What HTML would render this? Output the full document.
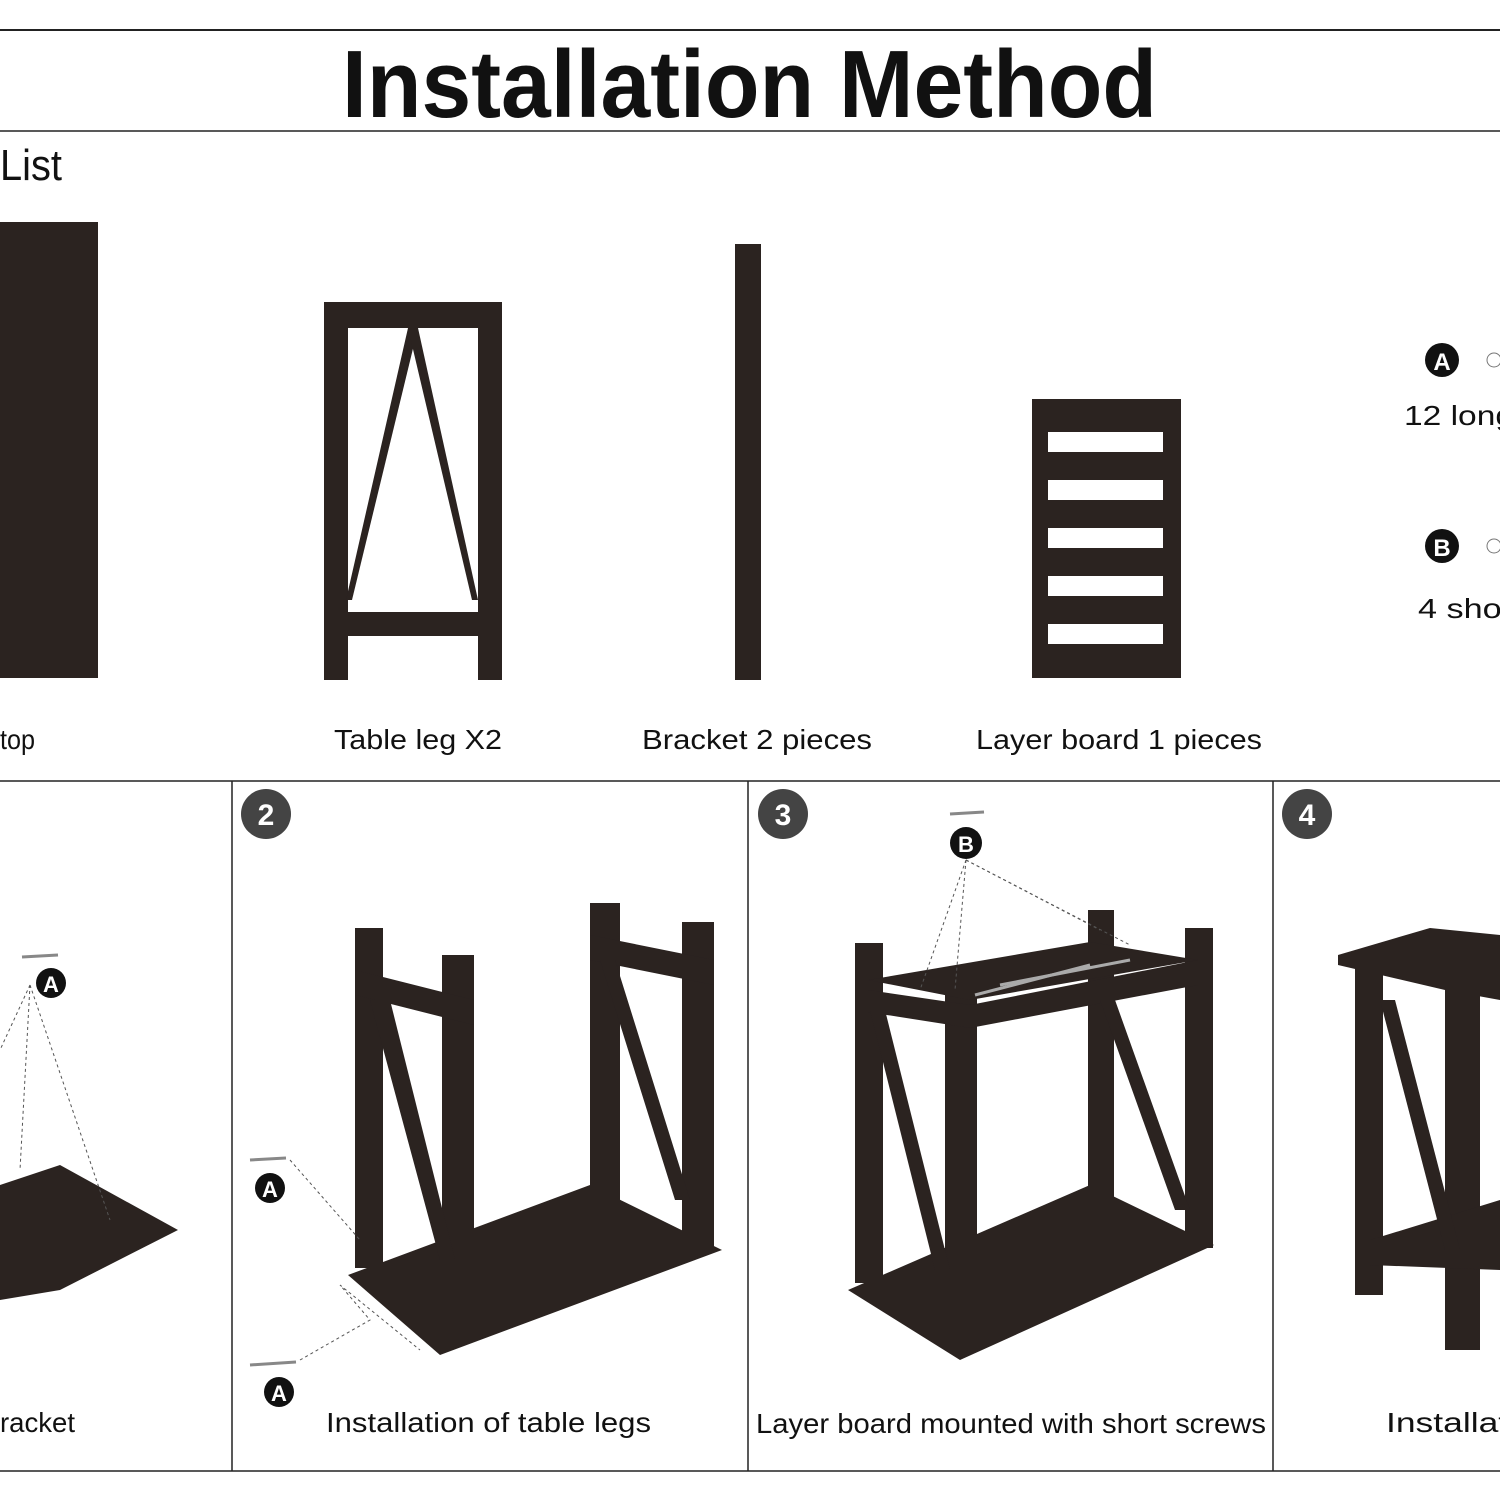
<!DOCTYPE html>
<html><head><meta charset="utf-8"><style>
html,body{margin:0;padding:0;background:#fff;}
svg{display:block;}
text{font-family:"Liberation Sans",sans-serif;fill:#111;}
</style></head><body>
<svg width="1500" height="1500" viewBox="0 0 1500 1500" xmlns="http://www.w3.org/2000/svg">
<rect width="1500" height="1500" fill="#fff"/>
<line x1="0" y1="30" x2="1500" y2="30" stroke="#222" stroke-width="2"/>
<text x="342" y="117" font-size="96" font-weight="bold" textLength="815" lengthAdjust="spacingAndGlyphs">Installation Method</text>
<line x1="0" y1="131" x2="1500" y2="131" stroke="#222" stroke-width="1.5"/>
<text x="0" y="180" font-size="44" textLength="62" lengthAdjust="spacingAndGlyphs">List</text>

<!-- tabletop -->
<rect x="0" y="222" width="98" height="456" fill="#2b2320"/>
<!-- table leg -->
<g fill="#2b2320">
<rect x="324" y="302" width="24" height="378"/>
<rect x="478" y="302" width="24" height="378"/>
<rect x="324" y="302" width="178" height="26"/>
<rect x="324" y="612" width="178" height="24"/>
<polygon points="408,328 418,328 352,600 346,600"/>
<polygon points="408,328 418,328 478,600 472,600"/>
</g>
<!-- bracket -->
<rect x="735" y="244" width="26" height="436" fill="#2b2320"/>
<!-- layer board -->
<rect x="1032" y="399" width="149" height="279" fill="#2b2320"/>
<g fill="#fff">
<rect x="1048" y="432" width="115" height="20"/>
<rect x="1048" y="480" width="115" height="20"/>
<rect x="1048" y="528" width="115" height="20"/>
<rect x="1048" y="576" width="115" height="20"/>
<rect x="1048" y="624" width="115" height="20"/>
</g>
<g font-size="28">
<text x="0" y="749" textLength="35" lengthAdjust="spacingAndGlyphs">top</text>
<text x="334" y="749" textLength="168" lengthAdjust="spacingAndGlyphs">Table leg X2</text>
<text x="642" y="749" textLength="230" lengthAdjust="spacingAndGlyphs">Bracket 2 pieces</text>
<text x="976" y="749" textLength="286" lengthAdjust="spacingAndGlyphs">Layer board 1 pieces</text>
<text x="1404" y="425" textLength="110" lengthAdjust="spacingAndGlyphs">12 long</text>
<text x="1418" y="618" textLength="95" lengthAdjust="spacingAndGlyphs">4 shor</text>
</g>
<circle cx="1442" cy="360" r="17" fill="#111"/><text x="1442" y="370" font-size="24" text-anchor="middle" style="fill:#fff" font-weight="bold">A</text>
<circle cx="1442" cy="546" r="17" fill="#111"/><text x="1442" y="556" font-size="24" text-anchor="middle" style="fill:#fff" font-weight="bold">B</text>
<circle cx="1494" cy="360" r="7" fill="none" stroke="#777"/>
<circle cx="1494" cy="546" r="7" fill="none" stroke="#777"/>

<!-- bottom frames -->
<line x1="0" y1="781" x2="1500" y2="781" stroke="#222" stroke-width="1.5"/>
<line x1="0" y1="1471" x2="1500" y2="1471" stroke="#222" stroke-width="1.5"/>
<line x1="232" y1="781" x2="232" y2="1471" stroke="#222" stroke-width="1.5"/>
<line x1="748" y1="781" x2="748" y2="1471" stroke="#222" stroke-width="1.5"/>
<line x1="1273" y1="781" x2="1273" y2="1471" stroke="#222" stroke-width="1.5"/>
<g font-size="30" font-weight="bold">
<circle cx="266" cy="814" r="25" fill="#444"/><text x="266" y="825" text-anchor="middle" style="fill:#fff">2</text>
<circle cx="783" cy="814" r="25" fill="#444"/><text x="783" y="825" text-anchor="middle" style="fill:#fff">3</text>
<circle cx="1307" cy="814" r="25" fill="#444"/><text x="1307" y="825" text-anchor="middle" style="fill:#fff">4</text>
</g>
<g font-size="28">
<text x="0" y="1432" textLength="75" lengthAdjust="spacingAndGlyphs">racket</text>
<text x="326" y="1432" textLength="325" lengthAdjust="spacingAndGlyphs">Installation of table legs</text>
<text x="756" y="1433" textLength="510" lengthAdjust="spacingAndGlyphs">Layer board  mounted with short screws</text>
<text x="1386" y="1432" textLength="130" lengthAdjust="spacingAndGlyphs">Installati</text>
</g>

<!-- panel 1 -->
<polygon points="0,1185 60,1165 178,1230 60,1290 0,1300" fill="#2b2320"/>
<g stroke="#555" stroke-dasharray="3,3" fill="none">
<line x1="30" y1="985" x2="0" y2="1050"/><line x1="30" y1="985" x2="20" y2="1170"/><line x1="30" y1="985" x2="110" y2="1220"/>
</g>
<circle cx="51" cy="983" r="15" fill="#111"/><text x="51" y="992" font-size="22" text-anchor="middle" style="fill:#fff" font-weight="bold">A</text>
<line x1="22" y1="957" x2="58" y2="955" stroke="#888" stroke-width="3"/>

<!-- panel 2 -->
<g fill="#2b2320">
<polygon points="348,1275 590,1185 722,1250 440,1355"/>
<rect x="355" y="928" width="28" height="340"/>
<rect x="442" y="955" width="32" height="380"/>
<rect x="590" y="903" width="30" height="300"/>
<rect x="682" y="922" width="32" height="330"/>
<polygon points="355,970 474,1000 474,1025 355,995"/>
<polygon points="590,935 714,960 714,985 590,960"/>
<polygon points="370,1000 390,1000 455,1260 440,1260"/>
<polygon points="600,960 615,960 690,1200 675,1200"/>
</g>
<g stroke="#555" stroke-dasharray="3,3" fill="none">
<line x1="290" y1="1160" x2="360" y2="1240"/><polyline points="300,1360 370,1320 340,1285 420,1350"/>
</g>
<circle cx="270" cy="1188" r="15" fill="#111"/><text x="270" y="1197" font-size="22" text-anchor="middle" style="fill:#fff" font-weight="bold">A</text>
<circle cx="279" cy="1392" r="15" fill="#111"/><text x="279" y="1401" font-size="22" text-anchor="middle" style="fill:#fff" font-weight="bold">A</text>
<line x1="250" y1="1160" x2="286" y2="1158" stroke="#888" stroke-width="3"/>
<line x1="250" y1="1365" x2="296" y2="1362" stroke="#888" stroke-width="3"/>

<!-- panel 3 -->
<g fill="#2b2320">
<polygon points="848,1290 1090,1185 1214,1245 960,1360"/>
<rect x="855" y="943" width="28" height="340"/>
<rect x="945" y="968" width="32" height="380"/>
<rect x="1088" y="910" width="26" height="290"/>
<rect x="1185" y="928" width="28" height="320"/>
<polygon points="868,980 1090,942 1198,960 970,1000"/>
<polygon points="868,990 970,1005 970,1028 868,1012"/>
<polygon points="970,1005 1198,960 1198,985 970,1028"/>
<polygon points="870,1010 885,1010 950,1270 935,1270"/>
<polygon points="1100,1000 1115,1000 1190,1210 1175,1210"/>
</g>
<g stroke="#aaa" stroke-width="3"><line x1="975" y1="995" x2="1090" y2="965"/><line x1="1000" y1="985" x2="1130" y2="960"/></g>
<g stroke="#555" stroke-dasharray="3,3" fill="none">
<line x1="966" y1="860" x2="920" y2="990"/><line x1="966" y1="860" x2="955" y2="990"/><line x1="966" y1="860" x2="1100" y2="930"/><line x1="966" y1="860" x2="1130" y2="945"/>
</g>
<circle cx="966" cy="843" r="16" fill="#111"/><text x="966" y="852" font-size="22" text-anchor="middle" style="fill:#fff" font-weight="bold">B</text>
<line x1="950" y1="814" x2="984" y2="812" stroke="#888" stroke-width="3"/>

<!-- panel 4 -->
<g fill="#2b2320">
<polygon points="1338,955 1430,928 1500,935 1500,1000 1445,990 1338,965"/>
<rect x="1355" y="965" width="28" height="330"/>
<rect x="1445" y="990" width="35" height="360"/>
<polygon points="1370,1240 1500,1200 1500,1270 1370,1265"/>
<polygon points="1380,1000 1395,1000 1460,1250 1445,1250"/>
</g>
</svg>
</body></html>
